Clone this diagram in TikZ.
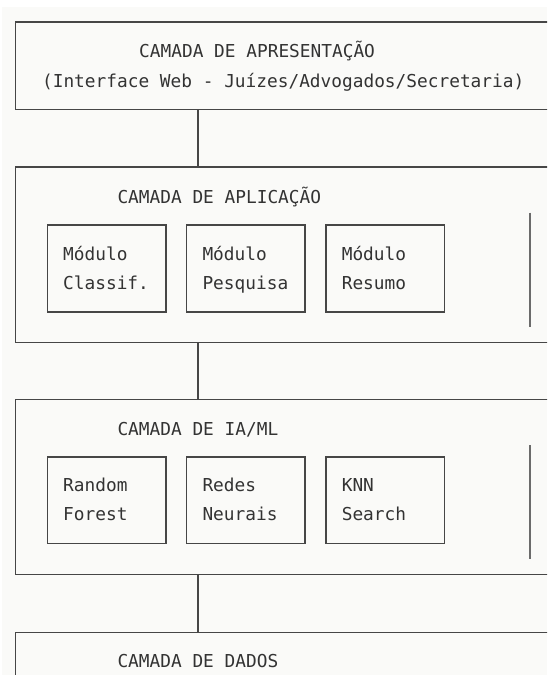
\documentclass[tikz,border=0pt]{standalone}
\usepackage{fontspec}
\newfontfamily\asciifont{DejaVu Sans Mono}
\usetikzlibrary{positioning}
\definecolor{ink}{HTML}{333333}
\definecolor{rule}{HTML}{464646}
\definecolor{paper}{HTML}{FAFAF8}
\tikzset{
  layer/.style={draw=rule, line width=1.6pt, rectangle, inner sep=0pt,
    minimum width=560pt, anchor=north west},
  modbox/.style={draw=rule, line width=1.5pt, rectangle, inner sep=0pt,
    minimum width=118.5pt, minimum height=86.6pt, anchor=north west},
  txt/.style={anchor=base west, inner sep=0pt, text=ink},
  link/.style={draw=rule, line width=1.6pt},
  frag/.style={draw=rule!80, line width=1.8pt}
}
\begin{document}
\begin{tikzpicture}[x=1pt,y=-1pt,font=\asciifont\fontsize{17.8pt}{29pt}\selectfont]
   \clip (0,0) rectangle (547,675);
   \fill[white] (0,0) rectangle (547,675);
   \fill[paper] (2,7) rectangle (547,675);

   % layers
   \node[layer, minimum height=87.6pt] (apres) at (14.5,20.9) {};
   \node[layer, minimum height=175.6pt, below=55.8pt of apres.south west, anchor=north west] (aplic) {};
   \node[layer, minimum height=175pt, below=55.4pt of aplic.south west, anchor=north west] (iaml) {};
   \node[layer, minimum height=100pt, below=56.4pt of iaml.south west, anchor=north west] (dados) {};

   \node[txt] (apres-t) at ([shift={(124.5,36.8)}]apres.north west) {CAMADA DE APRESENTAÇÃO};
   \node[txt] (apres-s) at ([shift={(27.4,66.4)}]apres.north west) {(Interface Web - Juízes/Advogados/Secretaria)};

   \node[txt] (aplic-t) at ([shift={(102.8,37.4)}]aplic.north west) {CAMADA DE APLICAÇÃO};
   \node[txt] (iaml-t) at ([shift={(102.8,37.4)}]iaml.north west) {CAMADA DE IA/ML};
   \node[txt] (dados-t) at ([shift={(102.8,35.8)}]dados.north west) {CAMADA DE DADOS};

   % modules
   \node[modbox] (modclass) at ([shift={(32,58.5)}]aplic.north west) {};
   \node[modbox, right=19.3pt of modclass] (modpesq) {};
   \node[modbox, right=19.3pt of modpesq] (modresumo) {};
   \node[txt] (modclass-a) at ([shift={(16.5,35.7)}]modclass.north west) {Módulo};
   \node[txt] (modclass-b) at ([shift={(16.5,64.7)}]modclass.north west) {Classif.};
   \node[txt] (modpesq-a) at ([shift={(16.5,35.7)}]modpesq.north west) {Módulo};
   \node[txt] (modpesq-b) at ([shift={(16.5,64.7)}]modpesq.north west) {Pesquisa};
   \node[txt] (modresumo-a) at ([shift={(16.5,35.7)}]modresumo.north west) {Módulo};
   \node[txt] (modresumo-b) at ([shift={(16.5,64.7)}]modresumo.north west) {Resumo};

   % models
   \node[modbox] (rforest) at ([shift={(32,57.6)}]iaml.north west) {};
   \node[modbox, right=19.3pt of rforest] (redes) {};
   \node[modbox, right=19.3pt of redes] (knn) {};
   \node[txt] (rforest-a) at ([shift={(16.5,35.7)}]rforest.north west) {Random};
   \node[txt] (rforest-b) at ([shift={(16.5,64.7)}]rforest.north west) {Forest};
   \node[txt] (redes-a) at ([shift={(16.5,35.7)}]redes.north west) {Redes};
   \node[txt] (redes-b) at ([shift={(16.5,64.7)}]redes.north west) {Neurais};
   \node[txt] (knn-a) at ([shift={(16.5,35.7)}]knn.north west) {KNN};
   \node[txt] (knn-b) at ([shift={(16.5,64.7)}]knn.north west) {Search};

   % cut-off boxes on the right
   \draw[frag] ([shift={(515.5,46.8)}]aplic.north west) -- ++(0,114);
   \draw[frag] ([shift={(515.5,46.8)}]iaml.north west) -- ++(0,114);

   % links between layers
   \coordinate (spine) at (197.7,0);
   \draw[link] (apres.south -| spine) -- (aplic.north -| spine);
   \draw[link] (aplic.south -| spine) -- (iaml.north -| spine);
   \draw[link] (iaml.south -| spine) -- (dados.north -| spine);
\end{tikzpicture}
\end{document}
